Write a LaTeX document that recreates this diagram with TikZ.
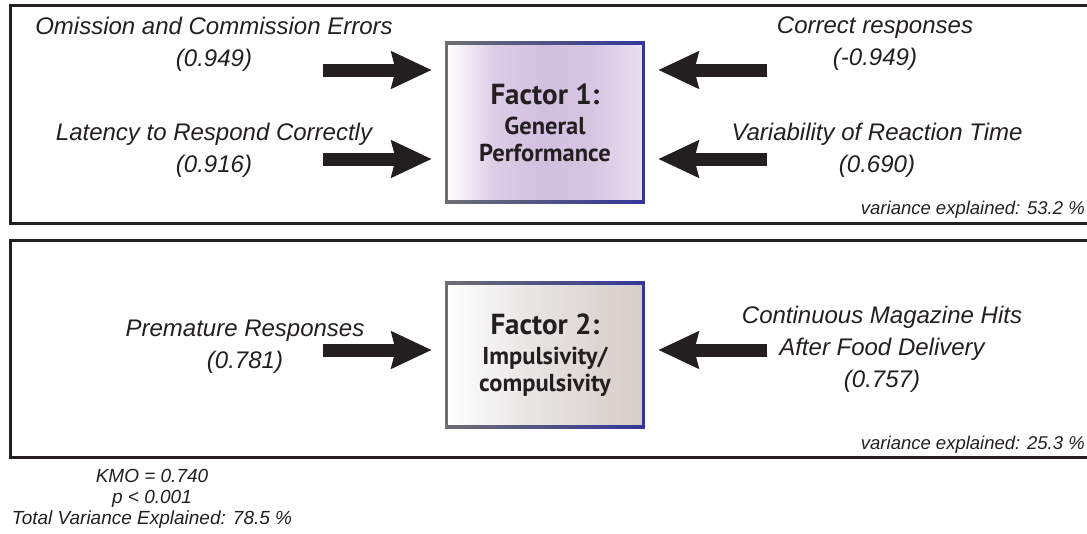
\documentclass[tikz,border=0pt]{standalone}
\usepackage{fontspec}
\setmainfont{Liberation Sans}
\newfontfamily\factorfont{PT Sans}
\usetikzlibrary{arrows.meta}

\definecolor{ink}{HTML}{231F20}
\definecolor{edgegray}{HTML}{6D6E71}
\definecolor{edgeblue}{HTML}{34379A}

% soft horizontal fills of the two factor boxes
\pgfdeclarehorizontalshading{purplefade}{100bp}{%
  color(0bp)=(white); color(25bp)=(white);
  color(37bp)=(rgb,255:red,220;green,205;blue,230);
  color(50bp)=(rgb,255:red,210;green,191;blue,223);
  color(62bp)=(rgb,255:red,214;green,198;blue,226);
  color(75bp)=(rgb,255:red,232;green,224;blue,239);
  color(100bp)=(rgb,255:red,232;green,224;blue,239)}
\pgfdeclarehorizontalshading{taupefade}{100bp}{%
  color(0bp)=(white); color(25bp)=(white);
  color(45bp)=(rgb,255:red,233;green,230;blue,230);
  color(75bp)=(rgb,255:red,213;green,205;blue,200);
  color(100bp)=(rgb,255:red,213;green,205;blue,200)}

\tikzset{
  panel/.style={draw=ink, line width=3pt},
  factorbox/.style={minimum width=196pt, minimum height=159pt, inner sep=0pt,
    align=center, text=ink, font=\factorfont\bfseries\fontsize{24.5}{27}\selectfont},
  loading/.style={align=center, inner sep=0pt, text=ink,
    font=\itshape\fontsize{24}{32}\selectfont},
  smallnote/.style={align=center, inner sep=0pt, text=ink,
    font=\itshape\fontsize{18.5}{21}\selectfont},
  thickarrow/.style={draw=ink, line width=13pt,
    -{Stealth[length=40pt, width=36pt, inset=4pt]}, shorten >=15pt}
}

\begin{document}
\begin{tikzpicture}[x=1pt, y=-1pt]
\useasboundingbox (0,0) rectangle (1087,533);
\clip (0,0) rectangle (1087,533);

% the two panels, open to the right
\draw[panel] (1100,5) -- (10,5) -- (10,223) -- (1100,223);
\draw[panel] (1100,240) -- (10,240) -- (10,457) -- (1100,457);

% factor boxes
\node[factorbox, shading=purplefade] (f1) at (545,122.5)
  {{\fontsize{29}{30}\selectfont Factor 1:}\\[3pt] General\\ Performance};
\node[factorbox, minimum height=144pt, shading=taupefade] (f2) at (545,355)
  {{\fontsize{29}{30}\selectfont Factor 2:}\\[3pt] Impulsivity/\\ compulsivity};

% box edges: gray on the left, blue on the right
\foreach \b in {f1,f2}{
  \shade[left color=edgegray, right color=edgeblue]
    ([yshift=1.5pt]\b.north west) rectangle ([yshift=-1.5pt]\b.north east);
  \shade[left color=edgegray, right color=edgeblue]
    ([yshift=1.5pt]\b.south west) rectangle ([yshift=-1.5pt]\b.south east);
  \fill[edgegray] ([xshift=-1.5pt,yshift=1.5pt]\b.north west)
    rectangle ([xshift=1.5pt,yshift=-1.5pt]\b.south west);
  \fill[edgeblue] ([xshift=-1.5pt,yshift=1.5pt]\b.north east)
    rectangle ([xshift=1.5pt,yshift=-1.5pt]\b.south east);
}

% loadings of factor 1
\node[loading] (omi) at (214,44) {Omission and Commission Errors\\(0.949)};
\node[loading] (lat) at (214,150) {Latency to Respond Correctly\\(0.916)};
\node[loading] (cor) at (875,44) {Correct responses\\(-0.949)};
\node[loading] (var) at (877,150) {Variability of Reaction Time\\(0.690)};

% loadings of factor 2
\node[loading] (pre) at (245,347) {Premature Responses\\(0.781)};
\node[loading] (mag) at (882,349) {Continuous Magazine Hits\\After Food Delivery\\(0.757)};

% arrows into the factor boxes
\coordinate (t1) at (323,70);
\coordinate (t2) at (323,159);
\coordinate (t3) at (767,70);
\coordinate (t4) at (767,159);
\coordinate (t5) at (323,350);
\coordinate (t6) at (767,350);
\draw[thickarrow] (t1) -- (t1 -| f1.west);
\draw[thickarrow] (t2) -- (t2 -| f1.west);
\draw[thickarrow] (t3) -- (t3 -| f1.east);
\draw[thickarrow] (t4) -- (t4 -| f1.east);
\draw[thickarrow] (t5) -- (t5 -| f2.west);
\draw[thickarrow] (t6) -- (t6 -| f2.east);

% explained variance
\node[smallnote, anchor=east] (v1) at (1085,210) {variance explained: 53.2 \%};
\node[smallnote, anchor=east] (v2) at (1085,445) {variance explained: 25.3 \%};
\node[smallnote, font=\itshape\fontsize{19}{21}\selectfont] (kmo) at (152,499)
  {KMO = 0.740\\p {\char`<} 0.001\\Total Variance Explained: 78.5 \%};
\end{tikzpicture}
\end{document}
